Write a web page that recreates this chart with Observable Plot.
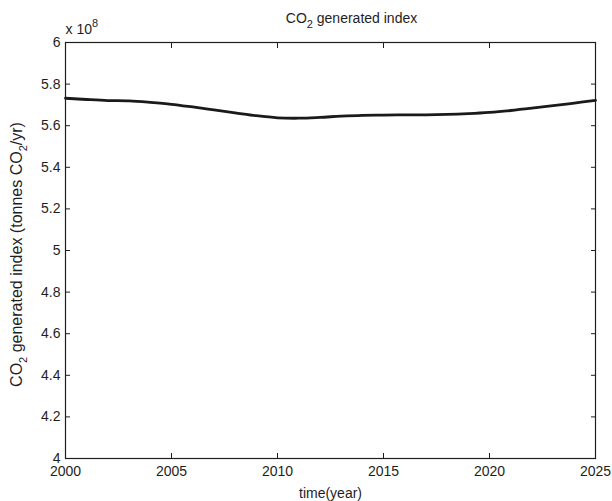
<!DOCTYPE html>
<html>
<head>
<meta charset="utf-8">
<script src="https://cdn.jsdelivr.net/npm/d3@7"></script>
<script src="https://cdn.jsdelivr.net/npm/@observablehq/plot@0.6"></script>
<style>
  html, body { margin: 0; padding: 0; background: #fff; }
  svg { display: block; }
</style>
</head>
<body>
<div id="chart"></div>
<script>
// ---- data (CO2 generated index, in units of 10^8 tonnes CO2/yr) ----
const years = [2000, 2001, 2002, 2003, 2004, 2005, 2006, 2007, 2008, 2009, 2010, 2011, 2012,
               2013, 2014, 2015, 2016, 2017, 2018, 2019, 2020, 2021, 2022, 2023, 2024, 2025];
const co2Index = [5.732, 5.726, 5.721, 5.719, 5.712, 5.703, 5.690, 5.676, 5.662, 5.648, 5.638, 5.636, 5.640,
                  5.646, 5.650, 5.651, 5.652, 5.652, 5.654, 5.658, 5.664, 5.673, 5.684, 5.696, 5.709, 5.722];

const xTicks = [2000, 2005, 2010, 2015, 2020, 2025];
const xTickLabels = ["2000", "2005", "2010", "2015", "2020", "2025"];
const yTicks = [4, 4.2, 4.4, 4.6, 4.8, 5, 5.2, 5.4, 5.6, 5.8, 6];
const yTickLabels = ["4", "4.2", "4.4", "4.6", "4.8", "5", "5.2", "5.4", "5.6", "5.8", "6"];

const titleText = "CO₂ generated index";
const exponentText = "x 10⁸";
const yLabelText = "CO₂ generated index (tonnes CO₂/yr)";
const xLabelText = "time(year)";

// ---- build ----
const data = years.map((year, i) => ({year, value: co2Index[i]}));
const xLab = new Map(xTicks.map((t, i) => [t, xTickLabels[i]]));
const yLab = new Map(yTicks.map((t, i) => [t, yTickLabels[i]]));
const font = "'Liberation Sans', Arial, Helvetica, sans-serif";
const ink = "#1e1e1e";

const chart = Plot.plot({
  width: 612,
  height: 501,
  marginLeft: 65,
  marginRight: 17,
  marginTop: 42,
  marginBottom: 43,
  style: {fontFamily: font, fontSize: "14px", color: ink, background: "#fff"},
  x: {domain: [2000, 2025]},
  y: {domain: [4, 6]},
  marks: [
    Plot.line(data, {x: "year", y: "value", stroke: "#1a1a1a", strokeWidth: 2.8, curve: "catmull-rom"}),
    Plot.frame({stroke: ink, strokeWidth: 1.2}),
    Plot.axisX({ticks: xTicks, anchor: "bottom", tickSize: -5, tickPadding: 13,
                tickFormat: d => xLab.get(d), label: null, stroke: ink, fill: ink}),
    Plot.axisX({ticks: xTicks, anchor: "top", tickSize: -5,
                tickFormat: () => "", label: null, stroke: ink}),
    Plot.axisY({ticks: yTicks, anchor: "left", tickSize: -5, tickPadding: 10,
                tickFormat: d => yLab.get(d), label: null, stroke: ink, fill: ink}),
    Plot.axisY({ticks: yTicks, anchor: "right", tickSize: -5,
                tickFormat: () => "", label: null, stroke: ink}),
    Plot.text([titleText], {text: d => d, frameAnchor: "top", dx: 21, dy: -24,
                            lineAnchor: "middle", fontSize: 14, fill: ink}),
    Plot.text([exponentText], {text: d => d, frameAnchor: "top-left", textAnchor: "start", dx: 0, dy: -13,
                               lineAnchor: "middle", fontSize: 14, fill: ink}),
    Plot.text([yLabelText], {text: d => d, frameAnchor: "left", textAnchor: "middle", rotate: -90,
                             dx: -49, dy: 4, lineAnchor: "middle", fontSize: 16, fill: ink}),
    Plot.text([xLabelText], {text: d => d, frameAnchor: "bottom", dx: 0, dy: 35,
                             lineAnchor: "middle", fontSize: 14, fill: ink})
  ]
});

// Render sub/superscripts with tspans (TeX-like look)
const subMap = {"₂": "2"};
const supMap = {"⁸": "8"};
d3.select(chart).selectAll("text").each(function() {
  const el = this;
  if (el.querySelector("tspan")) return;
  const s = el.textContent;
  if (!/[₂⁸]/.test(s)) return;
  el.textContent = "";
  let buf = "";
  let shift = 0;
  const flush = () => {
    if (!buf) return;
    const t = document.createElementNS("http://www.w3.org/2000/svg", "tspan");
    t.textContent = buf;
    if (shift) { t.setAttribute("dy", String(-shift)); shift = 0; }
    el.appendChild(t);
    buf = "";
  };
  for (const ch of s) {
    if (subMap[ch] || supMap[ch]) {
      flush();
      const t = document.createElementNS("http://www.w3.org/2000/svg", "tspan");
      const off = subMap[ch] ? 5 : -7;
      t.textContent = subMap[ch] || supMap[ch];
      t.setAttribute("dy", String(off - shift));
      t.setAttribute("font-size", "11");
      el.appendChild(t);
      shift = off;
    } else {
      buf += ch;
    }
  }
  flush();
});

document.getElementById("chart").appendChild(chart);
</script>
</body>
</html>
